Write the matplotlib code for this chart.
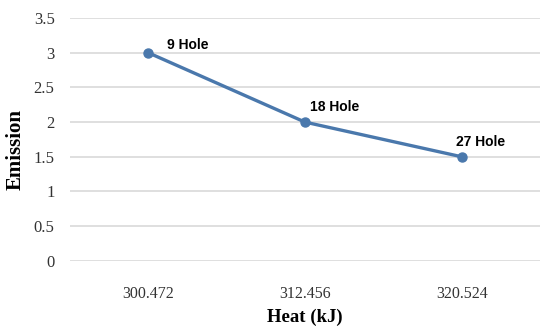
import matplotlib
matplotlib.use("Agg")
import matplotlib.pyplot as plt

# chart data
heat_labels = ["300.472", "312.456", "320.524"]
emission = [3, 2, 1.5]
hole_labels = ["9 Hole", "18 Hole", "27 Hole"]
label_offsets = [(19, 8), (5, 15), (-6, 15)]

fig = plt.figure(figsize=(5.5, 3.34), dpi=100)
ax = fig.add_axes([0.127, 0.219, 0.855, 0.727])

x = list(range(len(heat_labels)))
ax.plot(x, emission, color="#4a78ac", linewidth=2.4, marker="o", markersize=6.5, zorder=3)

for xi, yi, txt, off in zip(x, emission, hole_labels, label_offsets):
  ax.annotate(txt, (xi, yi), xytext=off, textcoords="offset pixels",
              ha="left", va="center", fontsize=10, fontweight="bold",
              family="Liberation Sans", color="black")

ax.set_xlim(-0.5, 2.5)
ax.set_ylim(0, 3.5)
ax.set_yticks([0, 0.5, 1, 1.5, 2, 2.5, 3, 3.5])
ax.set_yticklabels(["0", "0.5", "1", "1.5", "2", "2.5", "3", "3.5"])
ax.set_xticks(x)
ax.set_xticklabels(heat_labels)

for lbl in ax.get_xticklabels():
  lbl.set_family("Liberation Serif")
  lbl.set_fontsize(11.5)
  lbl.set_color("#333333")
for lbl in ax.get_yticklabels():
  lbl.set_family("Liberation Serif")
  lbl.set_fontsize(12)
  lbl.set_color("#333333")

ax.tick_params(axis="both", length=0)
ax.tick_params(axis="x", pad=18)
ax.tick_params(axis="y", pad=11)
ax.grid(axis="y", color="#d9d9d9", linewidth=1.2)
ax.set_axisbelow(True)
for s in ax.spines.values():
  s.set_visible(False)

ax.set_xlabel("Heat (kJ)", family="Liberation Serif", fontweight="bold", fontsize=13.5, labelpad=5)
ax.set_ylabel("Emission", family="Liberation Serif", fontweight="bold", fontsize=15)
ax.yaxis.set_label_coords(-0.095, 0.457)

fig.savefig("out.png", dpi=100, facecolor="white")
